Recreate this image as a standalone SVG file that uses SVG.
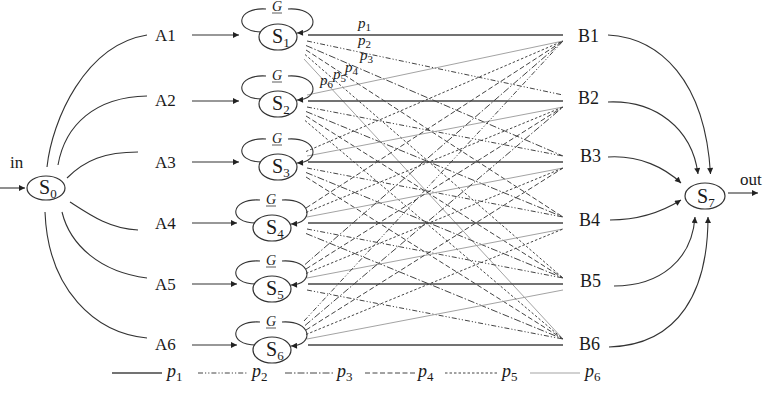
<svg xmlns="http://www.w3.org/2000/svg" width="765" height="415" viewBox="0 0 765 415">
<defs>
<marker id="ah" viewBox="0 0 10 10" refX="10" refY="5" markerWidth="8" markerHeight="6" orient="auto" markerUnits="userSpaceOnUse"><path d="M0,0 L10,5 L0,10 z" fill="#222"/></marker>
</defs>
<style>
text{font-family:"Liberation Serif","Times New Roman",serif;fill:#1a1a1a}
.nd{fill:#fff;stroke:#333;stroke-width:1.2}
.cv{fill:none;stroke:#333;stroke-width:1.1}
.ar{fill:none;stroke:#333;stroke-width:1.1;marker-end:url(#ah)}
.lp{fill:none;stroke:#333;stroke-width:1.1}
.g{font-size:14px;font-style:italic;text-anchor:middle}
.s{font-size:20px}
.lab{font-size:17px}
.bl{font-size:18px}
.pl{font-size:15px;font-style:italic}
.leg{font-size:18px;font-style:italic}
.sub{font-style:normal}
.p1{stroke:#444;stroke-width:1.3;fill:none}
.p2{stroke:#444;stroke-width:1;stroke-dasharray:5 2 1.2 2 1.2 2;fill:none}
.p3{stroke:#444;stroke-width:1;stroke-dasharray:7 2 1.5 2;fill:none}
.p4{stroke:#444;stroke-width:1;stroke-dasharray:5 2.5;fill:none}
.p5{stroke:#444;stroke-width:1;stroke-dasharray:2.5 2;fill:none}
.p6{stroke:#999;stroke-width:0.9;fill:none}
</style>

<g id="connectors">
<line class="ar" x1="0" y1="188" x2="25" y2="188"/>
<line class="ar" x1="728" y1="193" x2="758" y2="193"/>
<path class="cv" d="M47,167 C52,120 85,45 147,35"/>
<path class="cv" d="M58,165 C65,125 95,97 147,96"/>
<path class="cv" d="M67,178 C85,160 105,152 138,152"/>
<path class="cv" d="M70,202 C90,215 110,229 138,230"/>
<path class="cv" d="M62,212 C70,245 100,272 147,278"/>
<path class="cv" d="M45,212 C48,290 95,333 147,338"/>
<line class="ar" x1="192" y1="35" x2="239" y2="35"/>
<line class="ar" x1="192" y1="101" x2="239" y2="101"/>
<line class="ar" x1="192" y1="162" x2="239" y2="162"/>
<line class="ar" x1="192" y1="223" x2="237" y2="223"/>
<line class="ar" x1="192" y1="284" x2="237" y2="284"/>
<line class="ar" x1="192" y1="345" x2="237" y2="345"/>
<path class="ar" d="M608,35 C660,38 705,80 710.5,174"/>
<path class="ar" d="M608,102 C655,100 692,128 698,174"/>
<path class="ar" d="M608,157 C640,155 665,168 681,183"/>
<path class="ar" d="M610,220 C640,220 665,210 681,200"/>
<path class="ar" d="M614,286 C660,286 692,260 695,217"/>
<path class="ar" d="M609,347 C680,345 708,290 708,217"/>

<line class="p1" x1="308" y1="35" x2="563" y2="35"/>
<line class="p2" x1="307" y1="41" x2="563" y2="95"/>
<line class="p3" x1="306" y1="45.5" x2="563" y2="156"/>
<line class="p4" x1="306" y1="50" x2="563" y2="217"/>
<line class="p5" x1="305" y1="54.5" x2="563" y2="278"/>
<line class="p6" x1="304" y1="59" x2="563" y2="339"/>

<line class="p6" x1="307" y1="95" x2="563" y2="41"/>
<line class="p1" x1="308" y1="101" x2="563" y2="101"/>
<line class="p2" x1="307" y1="107" x2="563" y2="156"/>
<line class="p3" x1="306" y1="111.5" x2="563" y2="217"/>
<line class="p4" x1="306" y1="116" x2="563" y2="278"/>
<line class="p5" x1="305" y1="120.5" x2="563" y2="339"/>

<line class="p5" x1="306" y1="151.5" x2="563" y2="41"/>
<line class="p6" x1="307" y1="156" x2="563" y2="107"/>
<line class="p1" x1="308" y1="162" x2="563" y2="162"/>
<line class="p2" x1="307" y1="168" x2="563" y2="217"/>
<line class="p3" x1="306" y1="172.5" x2="563" y2="278"/>
<line class="p4" x1="306" y1="177" x2="563" y2="339"/>

<line class="p4" x1="306" y1="208" x2="563" y2="41"/>
<line class="p5" x1="306" y1="212.5" x2="563" y2="107"/>
<line class="p6" x1="307" y1="217" x2="563" y2="168"/>
<line class="p1" x1="308" y1="223" x2="563" y2="223"/>
<line class="p2" x1="307" y1="229" x2="563" y2="278"/>
<line class="p3" x1="306" y1="233.5" x2="563" y2="339"/>

<line class="p3" x1="305" y1="264.5" x2="563" y2="41"/>
<line class="p4" x1="306" y1="269" x2="563" y2="107"/>
<line class="p5" x1="306" y1="273.5" x2="563" y2="168"/>
<line class="p6" x1="307" y1="278" x2="563" y2="229"/>
<line class="p1" x1="308" y1="284" x2="563" y2="284"/>
<line class="p2" x1="307" y1="290" x2="563" y2="339"/>

<line class="p2" x1="304" y1="321" x2="563" y2="41"/>
<line class="p3" x1="305" y1="325.5" x2="563" y2="107"/>
<line class="p4" x1="306" y1="330" x2="563" y2="168"/>
<line class="p5" x1="306" y1="334.5" x2="563" y2="229"/>
<line class="p6" x1="307" y1="339" x2="563" y2="290"/>
<line class="p1" x1="308" y1="345" x2="563" y2="345"/>
</g>

<g id="edge-labels">
<text class="pl" x="358" y="28">p<tspan class="sub" font-size="11" dy="3">1</tspan></text>
<text class="pl" x="358" y="45">p<tspan class="sub" font-size="11" dy="3">2</tspan></text>
<text class="pl" x="360" y="60">p<tspan class="sub" font-size="11" dy="3">3</tspan></text>
<text class="pl" x="345" y="72">p<tspan class="sub" font-size="11" dy="3">4</tspan></text>
<text class="pl" x="333" y="79">p<tspan class="sub" font-size="11" dy="3">5</tspan></text>
<text class="pl" x="320" y="85">p<tspan class="sub" font-size="11" dy="3">6</tspan></text>
</g>

<g id="S0">
<ellipse class="nd" cx="46" cy="188" rx="19" ry="12"/>
<text class="s" x="39" y="194">S<tspan font-size="13" dy="4">0</tspan></text>
<text class="lab" x="10" y="168">in</text>
</g>

<g id="A1"><text class="lab" x="155" y="41">A1</text></g>
<g id="A2"><text class="lab" x="155" y="106">A2</text></g>
<g id="A3"><text class="lab" x="155" y="168">A3</text></g>
<g id="A4"><text class="lab" x="155" y="229">A4</text></g>
<g id="A5"><text class="lab" x="155" y="290">A5</text></g>
<g id="A6"><text class="lab" x="155" y="350">A6</text></g>

<g id="S1">
<path class="lp" d="M262,32 C233,32 236,7 266,9"/>
<path class="ar" d="M288,9 C318,7 321,32 297,33"/>
<text class="g" x="277" y="11">G</text><line x1="272" y1="13" x2="282" y2="13" stroke="#333" stroke-width="0.8"/>
<ellipse class="nd" cx="278" cy="37" rx="19" ry="13"/>
<text class="s" x="272" y="43">S<tspan font-size="13" dy="4">1</tspan></text>
</g>
<g id="S2">
<path class="lp" d="M262,99 C233,99 236,74 266,76"/>
<path class="ar" d="M288,76 C318,74 321,99 297,100"/>
<text class="g" x="277" y="80">G</text><line x1="272" y1="82" x2="282" y2="82" stroke="#333" stroke-width="0.8"/>
<ellipse class="nd" cx="278" cy="104" rx="19" ry="13"/>
<text class="s" x="272" y="110">S<tspan font-size="13" dy="4">2</tspan></text>
</g>
<g id="S3">
<path class="lp" d="M262,162 C233,162 236,137 266,139"/>
<path class="ar" d="M288,139 C318,137 321,162 297,163"/>
<text class="g" x="277" y="143">G</text><line x1="272" y1="145" x2="282" y2="145" stroke="#333" stroke-width="0.8"/>
<ellipse class="nd" cx="278" cy="167" rx="19" ry="13"/>
<text class="s" x="272" y="173">S<tspan font-size="13" dy="4">3</tspan></text>
</g>
<g id="S4">
<path class="lp" d="M256,223 C227,223 230,198 260,200"/>
<path class="ar" d="M282,200 C312,198 315,223 291,224"/>
<text class="g" x="271" y="204">G</text><line x1="266" y1="206" x2="276" y2="206" stroke="#333" stroke-width="0.8"/>
<ellipse class="nd" cx="272" cy="228" rx="19" ry="13"/>
<text class="s" x="266" y="234">S<tspan font-size="13" dy="4">4</tspan></text>
</g>
<g id="S5">
<path class="lp" d="M256,284 C227,284 230,259 260,261"/>
<path class="ar" d="M282,261 C312,259 315,284 291,285"/>
<text class="g" x="271" y="265">G</text><line x1="266" y1="267" x2="276" y2="267" stroke="#333" stroke-width="0.8"/>
<ellipse class="nd" cx="272" cy="289" rx="19" ry="13"/>
<text class="s" x="266" y="295">S<tspan font-size="13" dy="4">5</tspan></text>
</g>
<g id="S6">
<path class="lp" d="M256,345 C227,345 230,320 260,322"/>
<path class="ar" d="M282,322 C312,320 315,345 291,346"/>
<text class="g" x="271" y="326">G</text><line x1="266" y1="328" x2="276" y2="328" stroke="#333" stroke-width="0.8"/>
<ellipse class="nd" cx="272" cy="350" rx="19" ry="13"/>
<text class="s" x="266" y="356">S<tspan font-size="13" dy="4">6</tspan></text>
</g>

<g id="B1"><text class="bl" x="578" y="42">B1</text></g>
<g id="B2"><text class="bl" x="578" y="104">B2</text></g>
<g id="B3"><text class="bl" x="580" y="162">B3</text></g>
<g id="B4"><text class="bl" x="579" y="226">B4</text></g>
<g id="B5"><text class="bl" x="580" y="287">B5</text></g>
<g id="B6"><text class="bl" x="579" y="350">B6</text></g>

<g id="S7">
<ellipse class="nd" cx="705" cy="196" rx="20" ry="13"/>
<text class="s" x="697" y="203">S<tspan font-size="13" dy="4">7</tspan></text>
<text class="lab" x="740" y="185">out</text>
</g>

<g id="legend">
<line class="p1" x1="112" y1="373" x2="162" y2="373"/>
<text class="leg" x="167" y="377">p<tspan class="sub" font-size="13" dy="4">1</tspan></text>
<line class="p2" x1="198" y1="373" x2="248" y2="373"/>
<text class="leg" x="252" y="377">p<tspan class="sub" font-size="13" dy="4">2</tspan></text>
<line class="p3" x1="285" y1="373" x2="333" y2="373"/>
<text class="leg" x="337" y="377">p<tspan class="sub" font-size="13" dy="4">3</tspan></text>
<line class="p4" x1="365" y1="373" x2="417" y2="373"/>
<text class="leg" x="418" y="377">p<tspan class="sub" font-size="13" dy="4">4</tspan></text>
<line class="p5" x1="445" y1="373" x2="497" y2="373"/>
<text class="leg" x="502" y="377">p<tspan class="sub" font-size="13" dy="4">5</tspan></text>
<line class="p6" x1="530" y1="373" x2="580" y2="373"/>
<text class="leg" x="585" y="377">p<tspan class="sub" font-size="13" dy="4">6</tspan></text>
</g>
</svg>
